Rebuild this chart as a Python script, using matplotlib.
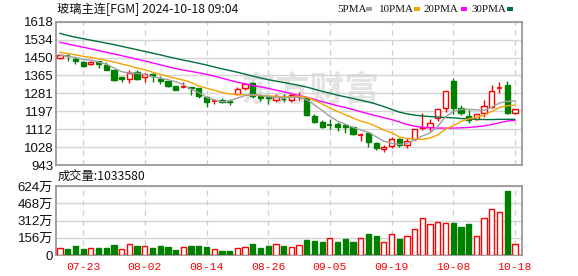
import numpy as np
import matplotlib.pyplot as plt
from matplotlib.patches import Rectangle

plt.rcParams['font.family'] = ['Liberation Sans', 'Noto Sans CJK SC', 'DejaVu Sans']

# ---- data (glass futures, daily) ----
title = "玻璃主连[FGM] 2024-10-18 09:04"
dates = ['07-23', '08-02', '08-14', '08-26', '09-05', '09-19', '10-08', '10-18']
date_idx = [3, 11, 19, 27, 35, 43, 51, 59]

opens = [1447, 1457, 1444, 1430, 1417, 1431, 1414, 1390, 1357, 1350,
         1381, 1356, 1371, 1350, 1337, 1315, 1311, 1310, 1304, 1265,
         1243, 1250, 1244, 1277, 1307, 1328, 1268, 1262, 1249, 1255,
         1248, 1264, 1260, 1175, 1147, 1131, 1136, 1131, 1120, 1083,
         1092, 1045, 1018, 1032, 1065, 1037, 1065, 1118, 1123, 1163,
         1210, 1338, 1210, 1174, 1158, 1186, 1218, 1306, 1320, 1189]
highs = [1465, 1464, 1453, 1432, 1433, 1434, 1430, 1392, 1358, 1390,
         1390, 1378, 1375, 1362, 1338, 1317, 1335, 1312, 1305, 1268,
         1255, 1257, 1252, 1309, 1331, 1335, 1270, 1273, 1276, 1277,
         1282, 1285, 1265, 1183, 1155, 1160, 1147, 1133, 1123, 1092,
         1100, 1053, 1037, 1073, 1068, 1068, 1111, 1189, 1158, 1207,
         1293, 1354, 1225, 1202, 1183, 1249, 1318, 1335, 1338, 1207]
lows = [1444, 1434, 1417, 1406, 1415, 1401, 1390, 1338, 1334, 1327,
        1343, 1335, 1334, 1324, 1312, 1295, 1307, 1273, 1257, 1218,
        1228, 1233, 1225, 1273, 1296, 1257, 1244, 1228, 1241, 1241,
        1242, 1249, 1176, 1139, 1115, 1111, 1104, 1092, 1084, 1057,
        1029, 1016, 1002, 1021, 1030, 1021, 1060, 1108, 1104, 1150,
        1194, 1183, 1178, 1139, 1155, 1167, 1210, 1280, 1181, 1183]
closes = [1461, 1455, 1434, 1411, 1430, 1417, 1392, 1343, 1350, 1378,
          1346, 1373, 1360, 1338, 1316, 1296, 1312, 1306, 1268, 1241,
          1245, 1241, 1241, 1299, 1323, 1268, 1257, 1259, 1268, 1252,
          1272, 1266, 1180, 1144, 1123, 1129, 1123, 1120, 1087, 1085,
          1049, 1021, 1029, 1065, 1037, 1057, 1111, 1121, 1139, 1205,
          1291, 1213, 1189, 1155, 1181, 1222, 1293, 1308, 1186, 1205]

ma5 = [1461, 1455, 1450, 1440, 1437, 1428, 1418, 1400, 1382, 1377,
       1375, 1368, 1359, 1352, 1345, 1335, 1322, 1300, 1285, 1262,
       1250, 1241, 1245, 1258, 1270, 1275, 1272, 1265, 1262, 1260,
       1262, 1263, 1250, 1226, 1200, 1172, 1150, 1135, 1120, 1108,
       1097, 1076, 1055, 1045, 1040, 1045, 1062, 1080, 1095, 1125,
       1170, 1195, 1205, 1205, 1203, 1200, 1215, 1235, 1243, 1245]
ma10 = [1474, 1468, 1462, 1455, 1450, 1443, 1436, 1428, 1419, 1410,
        1400, 1392, 1380, 1370, 1360, 1351, 1343, 1332, 1315, 1305,
        1295, 1285, 1277, 1275, 1273, 1272, 1270, 1268, 1266, 1263,
        1265, 1267, 1262, 1248, 1230, 1212, 1195, 1180, 1165, 1150,
        1140, 1125, 1108, 1095, 1075, 1068, 1064, 1064, 1070, 1085,
        1112, 1128, 1148, 1160, 1168, 1178, 1195, 1214, 1222, 1225]
ma20 = [1521, 1513, 1505, 1498, 1490, 1482, 1474, 1466, 1458, 1450,
        1441, 1433, 1424, 1415, 1406, 1397, 1390, 1384, 1377, 1370,
        1362, 1352, 1342, 1333, 1325, 1318, 1311, 1304, 1296, 1288,
        1280, 1270, 1262, 1252, 1241, 1232, 1222, 1214, 1204, 1194,
        1184, 1175, 1166, 1157, 1146, 1134, 1126, 1120, 1118, 1117,
        1117, 1117, 1118, 1120, 1123, 1127, 1134, 1142, 1150, 1153]
ma30 = [1563, 1553, 1545, 1538, 1531, 1524, 1517, 1510, 1502, 1494,
        1486, 1478, 1470, 1462, 1453, 1445, 1437, 1430, 1422, 1414,
        1405, 1396, 1388, 1380, 1371, 1362, 1353, 1345, 1338, 1332,
        1325, 1318, 1310, 1300, 1290, 1281, 1272, 1264, 1256, 1248,
        1240, 1230, 1218, 1205, 1192, 1184, 1178, 1174, 1171, 1169,
        1167, 1165, 1162, 1160, 1158, 1157, 1157, 1158, 1158, 1158]

# volume in 万 (10k lots)
volume = [60, 54, 81, 54, 60, 63, 63, 90, 51, 96,
          81, 78, 63, 81, 72, 45, 69, 78, 78, 72,
          51, 36, 36, 60, 69, 99, 63, 78, 96, 81,
          69, 87, 135, 126, 117, 151, 117, 145, 117, 151,
          190, 172, 117, 190, 145, 169, 232, 331, 280, 295,
          289, 289, 253, 280, 169, 331, 413, 386, 579, 103.358]
vol_up = [1, 0, 0, 0, 1, 0, 0, 0, 1, 1,
          0, 1, 0, 0, 0, 0, 1, 0, 0, 0,
          1, 0, 0, 1, 1, 0, 0, 0, 1, 0,
          1, 1, 0, 0, 0, 1, 0, 0, 0, 1,
          0, 0, 1, 1, 0, 1, 1, 1, 1, 1,
          1, 0, 0, 0, 1, 1, 1, 1, 0, 1]

price_ticks = ['943', '1028', '1112', '1197', '1281', '1365', '1450', '1534', '1618']
vol_ticks = ['0', '156万', '312万', '468万', '624万']
ma_names = ['5PMA', '10PMA', '20PMA', '30PMA']
ma_colors = ['#a0a0a0', '#f5a300', '#ff00ff', '#00703a']

RED = '#ff0000'
GREEN = '#008000'
FRAME = '#999999'
GRID = '#d4d4d4'

W, H = 578, 276
fig = plt.figure(figsize=(W / 100, H / 100), dpi=100)

def px_axes(l, t, r, b):
    return fig.add_axes([l / W, 1 - b / H, (r - l) / W, (b - t) / H])

ax = px_axes(56, 21.7, 522, 165)
axv = px_axes(56, 186, 522, 255)

x = np.arange(len(closes))
xl = (-0.52, 59.92)

for a in (ax, axv):
    a.set_xlim(*xl)
    for s in a.spines.values():
        s.set_color(FRAME)
        s.set_linewidth(1.3)
    a.set_xticks(date_idx)
    a.grid(axis='y', color=GRID, lw=1.0, ls='-', zorder=0)
    a.grid(axis='x', color='#cccccc', lw=0.9, ls=(0, (4, 4)), zorder=0)
    a.set_axisbelow(True)
    a.tick_params(length=0)

# price panel
ax.set_ylim(943, 1618)
ax.set_yticks(np.linspace(943, 1618, 9))
ax.set_yticklabels(price_ticks, fontsize=9.5, color='#111111')
ax.tick_params(axis='y', pad=2)
ax.set_xticklabels([])

ax.text(0.545, 0.52, '东方财富', transform=ax.transAxes, ha='center', va='center',
        fontsize=25, fontweight='bold', color='#e3e3e3', family=['Noto Sans CJK SC'],
        zorder=0.5)

bw = 0.68
for i in x:
    o, h, l, c = opens[i], highs[i], lows[i], closes[i]
    up = c >= o
    col = RED if up else GREEN
    ax.vlines(i, l, h, color=col, lw=1.0, zorder=2)
    lo, hi = min(o, c), max(o, c)
    if hi - lo < 3:
        ax.hlines((o + c) / 2, i - bw / 2, i + bw / 2, color=col, lw=1.3, zorder=3)
    else:
        ax.add_patch(Rectangle((i - bw / 2, lo), bw, hi - lo,
                               facecolor='white' if up else GREEN,
                               edgecolor=col, lw=1.0, zorder=3))

for vals, col in zip([ma30, ma20, ma10, ma5], ma_colors[::-1]):
    ax.plot(x, vals, color=col, lw=1.0, zorder=4)

# volume panel
axv.set_ylim(0, 624)
axv.set_yticks([0, 156, 312, 468, 624])
axv.set_yticklabels(vol_ticks, fontsize=9.5, color='#111111')
axv.tick_params(axis='y', pad=2)
axv.set_xticklabels(dates, fontsize=8.2, color=RED, family=['Liberation Mono'])
axv.tick_params(axis='x', pad=5)

for i in x:
    if vol_up[i]:
        axv.add_patch(Rectangle((i - bw / 2, 0), bw, volume[i], facecolor='white',
                                edgecolor=RED, lw=1.0, zorder=3))
    else:
        axv.add_patch(Rectangle((i - bw / 2, 0), bw, volume[i], facecolor=GREEN,
                                edgecolor=GREEN, lw=1.0, zorder=3))

# header texts
fig.text(57 / W, 1 - 9 / H, title, fontsize=8.8, va='center', ha='left',
         family=['Noto Sans CJK SC'], color='#111111')
fig.text(58 / W, 1 - 176.5 / H, '成交量:1033580', fontsize=8.8, va='center', ha='left',
         family=['Noto Sans CJK SC'], color='#111111')

leg_x = [337, 379, 424, 471]
sq_x = [366, 414, 461, 507]
for name, col, tx, sx in zip(ma_names, ma_colors, leg_x, sq_x):
    fig.text(tx / W, 1 - 9 / H, name, fontsize=7.9, va='center', ha='left',
             family=['Liberation Serif'], color='#111111')
    fig.patches.append(Rectangle((sx / W, 1 - 11 / H), 6 / W, 4 / H,
                                 transform=fig.transFigure, facecolor=col,
                                 edgecolor='none'))

fig.savefig('out.png', dpi=100)
